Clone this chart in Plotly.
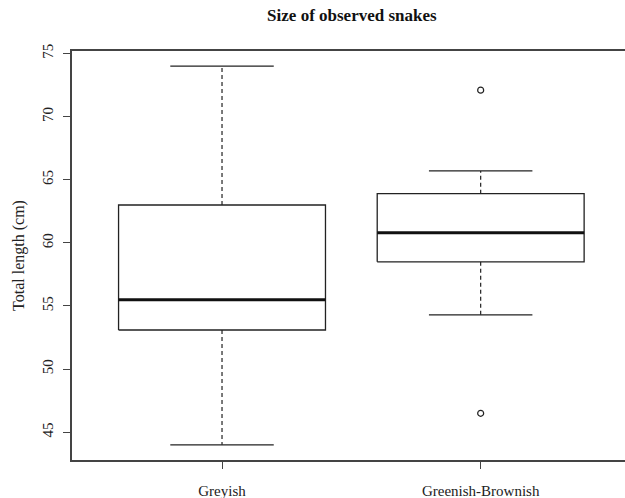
import plotly.graph_objects as go

categories = ["Greyish", "Greenish-Brownish"]
lower_whisker = [44.0, 54.3]
q1 = [53.1, 58.5]
median = [55.5, 60.8]
q3 = [63.0, 63.9]
upper_whisker = [74.0, 65.7]
outliers = [[], [72.1, 46.5]]

y_ticks = [45, 50, 55, 60, 65, 70, 75]

BOX_HALF = 0.4
CAP_HALF = 0.2
FONT = "Liberation Serif"
LINE = "#222222"

fig = go.Figure()
for i, cat in enumerate(categories):
    x = i + 1
    # dashed whiskers
    fig.add_trace(go.Scatter(
        x=[x, x, None, x, x],
        y=[q3[i], upper_whisker[i], None, q1[i], lower_whisker[i]],
        mode="lines", line=dict(color=LINE, width=1.2, dash="4px,3px"),
        hoverinfo="skip", showlegend=False))
    # caps
    fig.add_trace(go.Scatter(
        x=[x - CAP_HALF, x + CAP_HALF, None, x - CAP_HALF, x + CAP_HALF],
        y=[upper_whisker[i], upper_whisker[i], None, lower_whisker[i], lower_whisker[i]],
        mode="lines", line=dict(color=LINE, width=1.3),
        hoverinfo="skip", showlegend=False))
    # box
    fig.add_trace(go.Scatter(
        x=[x - BOX_HALF, x + BOX_HALF, x + BOX_HALF, x - BOX_HALF, x - BOX_HALF],
        y=[q1[i], q1[i], q3[i], q3[i], q1[i]],
        mode="lines", line=dict(color=LINE, width=1.3),
        fill="toself", fillcolor="white",
        hoverinfo="skip", showlegend=False))
    # median
    fig.add_trace(go.Scatter(
        x=[x - BOX_HALF, x + BOX_HALF],
        y=[median[i], median[i]],
        mode="lines", line=dict(color="#111111", width=3),
        hoverinfo="skip", showlegend=False))
    # outliers
    if outliers[i]:
        fig.add_trace(go.Scatter(
            x=[x] * len(outliers[i]), y=outliers[i],
            mode="markers",
            marker=dict(symbol="circle-open", size=6, color=LINE, line=dict(width=1.2)),
            hoverinfo="skip", showlegend=False))

fig.update_layout(
    width=625, height=498, autosize=False,
    margin=dict(l=72, r=0, t=51, b=38, autoexpand=False),
    plot_bgcolor="white", paper_bgcolor="white",
    font=dict(family=FONT, size=15, color="#222222"),
    title=dict(text="<b>Size of observed snakes</b>", x=0.563, xanchor="center",
               y=0.97, yanchor="middle", font=dict(family=FONT, size=17, color="#111111")),
    xaxis=dict(range=[0.42, 2.558], tickvals=[1, 2], ticktext=categories,
               ticks="outside", ticklen=7, tickcolor="#444444", tickwidth=1.3,
               showline=True, linecolor="#444444", linewidth=1.5, mirror=True,
               showgrid=False, zeroline=False, ticklabelstandoff=9,
               tickfont=dict(family=FONT, size=15, color="#222222")),
    yaxis=dict(range=[42.8, 75.2], tickvals=y_ticks, ticktext=[str(v) for v in y_ticks],
               ticks="outside", ticklen=7, tickcolor="#444444", tickwidth=1.3,
               showline=True, linecolor="#444444", linewidth=1.5, mirror=False,
               showgrid=False, zeroline=False, tickangle=-90, ticklabelstandoff=4,
               tickfont=dict(family=FONT, size=15, color="#222222")),
)
fig.update_yaxes(title=dict(text="Total length (cm)", standoff=12,
                            font=dict(family=FONT, size=16, color="#222222")))

fig.write_html("out.html", config={"displayModeBar": False},
               post_script="document.body.style.margin='0px';document.body.style.overflow='hidden';")
